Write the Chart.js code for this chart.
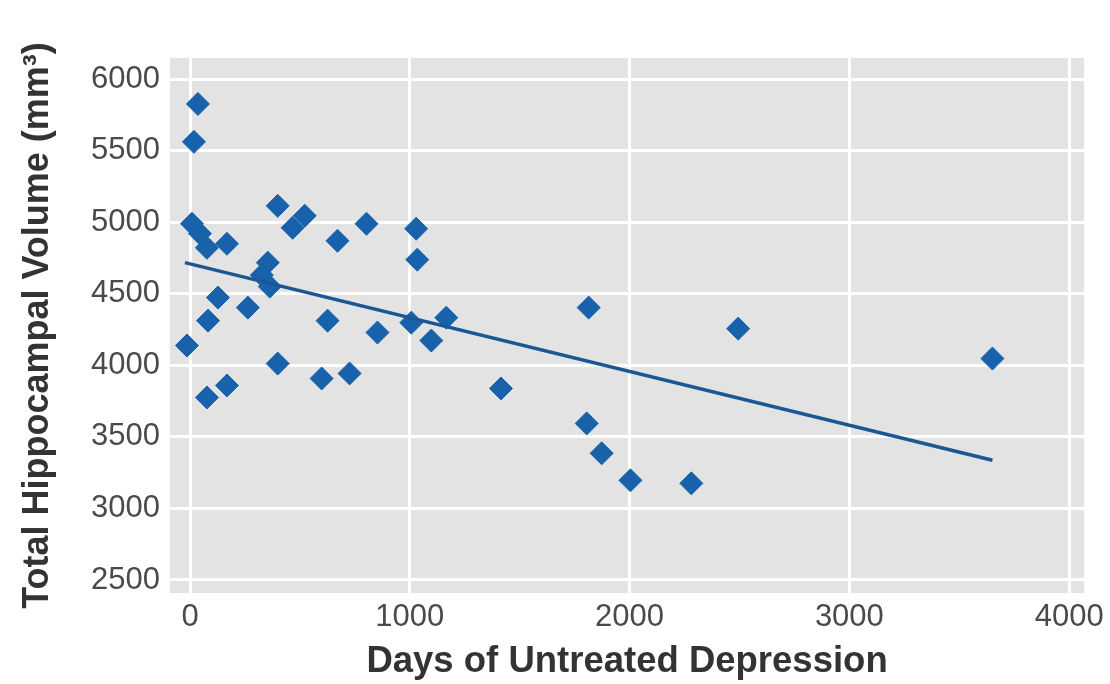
<!DOCTYPE html>
<html>
<head>
<meta charset="utf-8">
<script src="https://cdn.jsdelivr.net/npm/chart.js@4/dist/chart.umd.min.js"></script>
<style>
  html, body { margin: 0; padding: 0; background: #fff; }
  #wrap { width: 1110px; height: 684px; }
</style>
</head>
<body>
<div id="wrap"><canvas id="myChart" width="1110" height="684"></canvas></div>
<script>
// data
const days = [36, 18, 9, 45, 77, 168, 399, 467, 522, 671, 803, 1029, 1034, 354, 327, 363, 127, 263, 82, -14,
    626, 853, 1007, 1166, 1098, 399, 168, 77, 599, 726, 1814, 2494, 1415, 1805, 1873, 2004, 2281, 3651];
const volume = [5826, 5561, 4989, 4920, 4821, 4849, 5114, 4961, 5045, 4870, 4989, 4954, 4738, 4717, 4630, 4550, 4473, 4403, 4312, 4138,
    4312, 4229, 4298, 4333, 4173, 4012, 3859, 3775, 3908, 3943, 4403, 4256, 3838, 3594, 3385, 3196, 3175, 4047];
const fitDays = [-23, 3651];
const fitVolume = [4717, 3336];
const xTicks = [0, 1000, 2000, 3000, 4000];
const yTicks = [2500, 3000, 3500, 4000, 4500, 5000, 5500, 6000];

const points = days.map((d, i) => ({ x: d, y: volume[i] }));
const fitLine = fitDays.map((d, i) => ({ x: d, y: fitVolume[i] }));

// gray plot background
const plotBg = {
    id: 'plotBg',
    beforeDraw(chart) {
        const { ctx, chartArea: a } = chart;
        ctx.save();
        ctx.fillStyle = '#e3e3e3';
        ctx.fillRect(a.left, a.top, a.right - a.left, a.bottom - a.top);
        ctx.restore();
    }
};

const ctx = document.getElementById('myChart').getContext('2d');
new Chart(ctx, {
    type: 'scatter',
    data: {
        datasets: [{
            label: 'fit',
            type: 'line',
            data: fitLine,
            borderColor: '#1b5794',
            borderWidth: 3.5,
            pointRadius: 0,
            fill: false
        }, {
            label: 'subjects',
            data: points,
            pointStyle: 'rectRot',
            pointRadius: 11.5,
            backgroundColor: '#1762ab',
            borderColor: '#1762ab',
            borderWidth: 1
        }]
    },
    options: {
        responsive: false,
        animation: false,
        layout: { padding: { top: 58, right: 23, bottom: 0, left: 0 } },
        plugins: {
            legend: { display: false },
            tooltip: { enabled: false }
        },
        scales: {
            x: {
                type: 'linear',
                min: -91,
                max: 4068,
                afterBuildTicks: s => { s.ticks = xTicks.map(v => ({ value: v })); },
                afterFit: s => { s.height = 91; },
                grid: { color: '#ffffff', lineWidth: 3, drawTicks: false },
                border: { display: false },
                ticks: {
                    padding: 6,
                    color: '#4a4a4a',
                    font: { family: 'Liberation Sans', size: 31 },
                    callback: v => String(v)
                },
                title: {
                    display: true,
                    text: 'Days of Untreated Depression',
                    color: '#333',
                    padding: { top: 0, bottom: 0 },
                    font: { family: 'Liberation Sans', size: 36.5, weight: 'bold' }
                }
            },
            y: {
                min: 2409,
                max: 6147,
                afterBuildTicks: s => { s.ticks = yTicks.map(v => ({ value: v })); },
                afterFit: s => { s.width = 170; },
                grid: { color: '#ffffff', lineWidth: 3, drawTicks: false },
                border: { display: false },
                ticks: {
                    padding: 10,
                    color: '#4a4a4a',
                    font: { family: 'Liberation Sans', size: 31 },
                    callback: v => String(v)
                },
                title: {
                    display: true,
                    text: 'Total Hippocampal Volume (mm³)',
                    color: '#333',
                    padding: { top: 16, bottom: 0 },
                    font: { family: 'Liberation Sans', size: 36, weight: 'bold' }
                }
            }
        }
    },
    plugins: [plotBg]
});
</script>
</body>
</html>
